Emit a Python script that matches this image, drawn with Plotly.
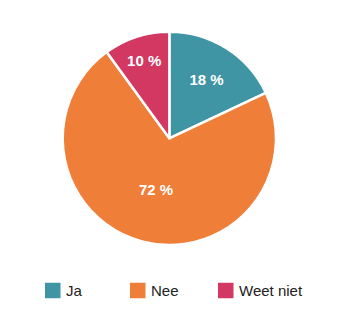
import plotly.graph_objects as go

labels = ["Ja", "Nee", "Weet niet"]
values = [18, 72, 10]
colors = ["#3F95A4", "#EF7E38", "#D23862"]

FONT = "Liberation Sans"

fig = go.Figure(go.Pie(
    labels=labels,
    values=values,
    sort=False,
    direction="clockwise",
    rotation=0,
    marker=dict(colors=colors, line=dict(color="white", width=2.5)),
    texttemplate="%{value} %",
    textposition="inside",
    insidetextorientation="horizontal",
    textfont=dict(family=FONT, size=15, color="white", weight="bold"),
    hoverinfo="skip",
    showlegend=False,
    domain=dict(x=[62.7/340, 276/340], y=[1-245/327, 1-31.7/327]),
))

# custom legend (square swatch + text), positioned in pixels
W, H = 340, 327
legend_x = [45, 130, 218]
sq = 15.5
cy = 290.5
for lab, col, x0 in zip(labels, colors, legend_x):
    fig.add_shape(type="rect", xref="paper", yref="paper",
                  x0=x0/W, x1=(x0+sq)/W, y0=1-(cy+sq/2)/H, y1=1-(cy-sq/2)/H,
                  fillcolor=col, line=dict(width=0))
    fig.add_annotation(xref="paper", yref="paper", x=(x0+sq+3)/W, y=1-cy/H,
                       xanchor="left", yanchor="middle", showarrow=False,
                       text=lab, font=dict(family=FONT, size=15, color="#222222"))

fig.update_layout(
    width=W, height=H,
    margin=dict(l=0, r=0, t=0, b=0),
    paper_bgcolor="white",
    plot_bgcolor="white",
)

fig.write_html("out.html")
